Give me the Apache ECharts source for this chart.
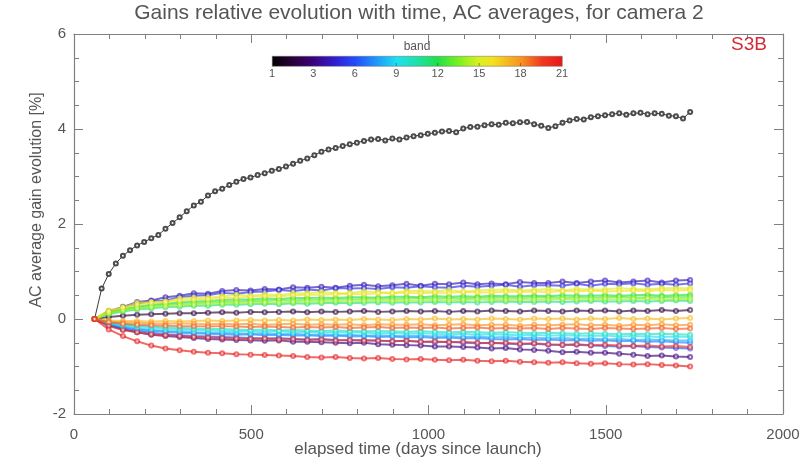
<!DOCTYPE html>
<html><head><meta charset="utf-8">
<script src="https://cdn.jsdelivr.net/npm/echarts@6/dist/echarts.min.js"></script>
<style>html,body{margin:0;padding:0;background:#fff}#c{width:803px;height:461px}</style>
</head><body><div id="c"></div>
<script>
// x values (days since launch)
const daysBand1 = [58,78,98,118,138,158,178,198,218,238,258,278,298,318,338,358,378,398,418,438,458,478,498,518,538,558,578,598,618,638,658,678,698,718,738,758,778,798,818,838,858,878,898,918,938,958,978,998,1018,1038,1058,1078,1098,1118,1138,1158,1178,1198,1218,1238,1258,1278,1298,1318,1338,1358,1378,1398,1418,1438,1458,1478,1498,1518,1538,1558,1578,1598,1618,1638,1658,1678,1698,1718,1738];
const daysBands = [58,98,138,178,218,258,298,338,378,418,458,498,538,578,618,658,698,738,778,818,858,898,938,978,1018,1058,1098,1138,1178,1218,1258,1298,1338,1378,1418,1458,1498,1538,1578,1618,1658,1698,1738];

// gain evolution [%] per band
const band1 = [0,0.64,0.95,1.17,1.33,1.45,1.55,1.62,1.70,1.77,1.90,2.02,2.14,2.27,2.39,2.47,2.60,2.69,2.74,2.82,2.89,2.95,2.98,3.03,3.07,3.12,3.16,3.21,3.27,3.33,3.38,3.45,3.52,3.57,3.60,3.64,3.68,3.71,3.75,3.78,3.79,3.76,3.80,3.78,3.82,3.85,3.87,3.90,3.92,3.95,3.96,3.93,4.01,4.04,4.05,4.08,4.10,4.09,4.13,4.12,4.14,4.15,4.10,4.07,4.02,4.06,4.13,4.18,4.21,4.20,4.25,4.27,4.29,4.31,4.33,4.30,4.33,4.34,4.31,4.33,4.32,4.28,4.27,4.22,4.36];
const band2 = [0,0.04,0.07,0.09,0.10,0.11,0.12,0.12,0.13,0.14,0.13,0.15,0.14,0.15,0.16,0.14,0.16,0.15,0.16,0.17,0.15,0.16,0.17,0.16,0.17,0.15,0.17,0.16,0.18,0.17,0.16,0.18,0.17,0.16,0.18,0.17,0.18,0.16,0.18,0.17,0.19,0.17,0.19];
const band3 = [0,-0.13,-0.22,-0.28,-0.33,-0.36,-0.38,-0.40,-0.42,-0.43,-0.44,-0.45,-0.46,-0.45,-0.48,-0.48,-0.49,-0.50,-0.51,-0.50,-0.53,-0.54,-0.55,-0.56,-0.58,-0.58,-0.59,-0.60,-0.62,-0.61,-0.64,-0.65,-0.67,-0.70,-0.69,-0.71,-0.71,-0.73,-0.75,-0.78,-0.77,-0.79,-0.80];
const band4 = [0,0.17,0.25,0.36,0.39,0.46,0.49,0.54,0.53,0.59,0.61,0.60,0.63,0.62,0.67,0.66,0.68,0.66,0.70,0.72,0.69,0.71,0.74,0.70,0.74,0.73,0.77,0.73,0.75,0.73,0.78,0.76,0.76,0.79,0.76,0.79,0.81,0.77,0.79,0.81,0.77,0.81,0.82];
const band5 = [0,0.14,0.26,0.32,0.38,0.39,0.46,0.49,0.50,0.55,0.53,0.57,0.58,0.61,0.59,0.62,0.60,0.65,0.64,0.65,0.63,0.67,0.66,0.69,0.67,0.66,0.70,0.68,0.70,0.72,0.68,0.71,0.71,0.70,0.74,0.70,0.74,0.73,0.75,0.72,0.74,0.72,0.75];
const band6 = [0,-0.12,-0.20,-0.25,-0.29,-0.32,-0.34,-0.36,-0.37,-0.38,-0.39,-0.40,-0.41,-0.40,-0.42,-0.43,-0.42,-0.44,-0.45,-0.44,-0.46,-0.47,-0.46,-0.48,-0.49,-0.48,-0.50,-0.51,-0.50,-0.52,-0.53,-0.52,-0.54,-0.55,-0.54,-0.56,-0.57,-0.58,-0.57,-0.59,-0.60,-0.61,-0.62];
const band7 = [0,-0.11,-0.18,-0.22,-0.25,-0.27,-0.29,-0.30,-0.31,-0.32,-0.33,-0.32,-0.34,-0.33,-0.35,-0.34,-0.36,-0.35,-0.37,-0.36,-0.38,-0.37,-0.39,-0.38,-0.40,-0.39,-0.41,-0.40,-0.42,-0.43,-0.42,-0.44,-0.43,-0.45,-0.44,-0.46,-0.45,-0.47,-0.46,-0.48,-0.47,-0.49,-0.50];
const band8 = [0,-0.10,-0.16,-0.20,-0.23,-0.25,-0.26,-0.28,-0.29,-0.29,-0.30,-0.31,-0.30,-0.32,-0.31,-0.33,-0.32,-0.34,-0.33,-0.35,-0.34,-0.35,-0.36,-0.35,-0.37,-0.36,-0.38,-0.37,-0.39,-0.38,-0.40,-0.39,-0.41,-0.40,-0.42,-0.41,-0.43,-0.42,-0.44,-0.43,-0.44,-0.45,-0.45];
const band9 = [0,-0.08,-0.13,-0.17,-0.19,-0.21,-0.22,-0.23,-0.24,-0.25,-0.25,-0.26,-0.27,-0.26,-0.28,-0.27,-0.28,-0.29,-0.28,-0.29,-0.30,-0.29,-0.31,-0.30,-0.31,-0.32,-0.31,-0.33,-0.32,-0.33,-0.34,-0.33,-0.35,-0.34,-0.35,-0.36,-0.35,-0.37,-0.36,-0.37,-0.38,-0.37,-0.38];
const band10 = [0,-0.07,-0.11,-0.14,-0.16,-0.18,-0.19,-0.20,-0.21,-0.21,-0.22,-0.23,-0.22,-0.24,-0.23,-0.24,-0.25,-0.24,-0.25,-0.26,-0.25,-0.26,-0.27,-0.26,-0.27,-0.28,-0.27,-0.28,-0.29,-0.28,-0.29,-0.30,-0.29,-0.30,-0.31,-0.30,-0.31,-0.32,-0.31,-0.32,-0.31,-0.32,-0.33];
const band11 = [0,0.10,0.16,0.20,0.22,0.25,0.26,0.28,0.28,0.30,0.30,0.31,0.32,0.31,0.33,0.32,0.33,0.34,0.33,0.34,0.35,0.34,0.35,0.35,0.36,0.35,0.36,0.35,0.36,0.37,0.36,0.36,0.37,0.36,0.37,0.38,0.37,0.37,0.38,0.37,0.38,0.39,0.38];
const band12 = [0,0.13,0.21,0.26,0.30,0.32,0.35,0.37,0.38,0.40,0.41,0.41,0.43,0.42,0.44,0.44,0.45,0.44,0.46,0.46,0.45,0.47,0.47,0.46,0.48,0.47,0.48,0.47,0.49,0.48,0.48,0.49,0.48,0.50,0.49,0.49,0.50,0.49,0.50,0.51,0.49,0.50,0.51];
const band13 = [0,0.12,0.19,0.24,0.27,0.30,0.32,0.33,0.35,0.36,0.37,0.38,0.38,0.40,0.39,0.41,0.40,0.42,0.41,0.42,0.43,0.42,0.43,0.44,0.43,0.44,0.43,0.45,0.44,0.45,0.44,0.45,0.46,0.45,0.46,0.45,0.46,0.47,0.45,0.46,0.47,0.46,0.47];
const band14 = [0,0.12,0.18,0.22,0.25,0.27,0.29,0.30,0.32,0.32,0.34,0.34,0.35,0.35,0.36,0.37,0.36,0.38,0.37,0.38,0.39,0.38,0.39,0.39,0.40,0.39,0.40,0.41,0.40,0.40,0.41,0.40,0.41,0.42,0.41,0.41,0.42,0.41,0.42,0.43,0.41,0.42,0.42];
const band15 = [0,0.18,0.25,0.34,0.36,0.37,0.43,0.45,0.45,0.48,0.51,0.49,0.52,0.50,0.54,0.54,0.57,0.54,0.55,0.58,0.57,0.55,0.59,0.59,0.58,0.61,0.57,0.60,0.61,0.62,0.60,0.61,0.63,0.60,0.63,0.62,0.62,0.65,0.63,0.62,0.65,0.65,0.65];
const band16 = [0,0.16,0.24,0.30,0.34,0.36,0.39,0.41,0.42,0.45,0.45,0.47,0.48,0.48,0.50,0.51,0.51,0.52,0.53,0.52,0.54,0.54,0.55,0.54,0.56,0.55,0.57,0.56,0.56,0.58,0.57,0.58,0.57,0.59,0.58,0.60,0.58,0.59,0.60,0.59,0.61,0.60,0.61];
const band17 = [0,-0.03,-0.04,-0.04,-0.05,-0.04,-0.05,-0.04,-0.03,-0.04,-0.03,-0.02,-0.03,-0.02,-0.03,-0.01,-0.02,-0.01,-0.02,0.00,-0.01,-0.02,0.00,-0.01,0.01,-0.01,0.00,-0.01,0.01,0.00,-0.01,0.01,0.00,0.01,-0.01,0.01,0.00,0.02,0.00,0.01,-0.01,0.01,0.02];
const band18 = [0,-0.05,-0.07,-0.08,-0.09,-0.10,-0.09,-0.10,-0.11,-0.10,-0.11,-0.10,-0.12,-0.11,-0.10,-0.12,-0.11,-0.12,-0.11,-0.13,-0.11,-0.12,-0.12,-0.11,-0.13,-0.12,-0.11,-0.13,-0.12,-0.12,-0.14,-0.12,-0.13,-0.12,-0.11,-0.13,-0.12,-0.14,-0.12,-0.13,-0.11,-0.13,-0.12];
const band19 = [0,-0.07,-0.10,-0.12,-0.13,-0.14,-0.15,-0.15,-0.16,-0.15,-0.16,-0.17,-0.16,-0.17,-0.18,-0.17,-0.18,-0.17,-0.19,-0.18,-0.17,-0.19,-0.18,-0.19,-0.18,-0.20,-0.19,-0.18,-0.20,-0.19,-0.20,-0.19,-0.21,-0.19,-0.20,-0.21,-0.19,-0.20,-0.21,-0.20,-0.19,-0.21,-0.20];
const band20 = [0,-0.15,-0.23,-0.28,-0.32,-0.34,-0.36,-0.38,-0.39,-0.40,-0.41,-0.42,-0.41,-0.43,-0.42,-0.44,-0.43,-0.45,-0.44,-0.46,-0.45,-0.47,-0.46,-0.48,-0.47,-0.49,-0.48,-0.50,-0.51,-0.50,-0.52,-0.51,-0.53,-0.54,-0.53,-0.55,-0.54,-0.56,-0.57,-0.56,-0.58,-0.57,-0.59];
const band21 = [0,-0.22,-0.36,-0.47,-0.56,-0.62,-0.66,-0.69,-0.71,-0.72,-0.74,-0.75,-0.76,-0.77,-0.78,-0.80,-0.81,-0.80,-0.82,-0.83,-0.82,-0.84,-0.85,-0.84,-0.86,-0.87,-0.86,-0.88,-0.89,-0.88,-0.90,-0.91,-0.92,-0.91,-0.93,-0.94,-0.93,-0.95,-0.96,-0.95,-0.97,-0.98,-1.00];

const colorbarLabels = ['1','3','6','9','12','15','18','21'];
const titleText = 'Gains relative evolution with time, AC averages, for camera 2';
const xName = 'elapsed time (days since launch)';
const yName = 'AC average gain evolution [%]';
const tagText = 'S3B';

const allBands = [band1,band2,band3,band4,band5,band6,band7,band8,band9,band10,band11,band12,band13,band14,band15,band16,band17,band18,band19,band20,band21];

const stops = [[0,'#000000'],[0.07,'#2a0038'],[0.14,'#3c0078'],[0.22,'#3020d0'],[0.29,'#2050ff'],[0.36,'#2098f8'],[0.43,'#20e0f0'],[0.5,'#20e0a8'],[0.57,'#20e048'],[0.64,'#78f020'],[0.71,'#d8f020'],[0.76,'#f4e020'],[0.86,'#f89020'],[0.93,'#f03820'],[1,'#e81818']];
function hex(c){return [parseInt(c.substr(1,2),16),parseInt(c.substr(3,2),16),parseInt(c.substr(5,2),16)];}
function colorAt(f){
  for(let i=1;i<stops.length;i++){
    if(f<=stops[i][0]){
      const a=hex(stops[i-1][1]), b=hex(stops[i][1]);
      const t=(f-stops[i-1][0])/(stops[i][0]-stops[i-1][0]);
      return 'rgb('+a.map((v,k)=>Math.round(v+(b[k]-v)*t)).join(',')+')';
    }
  }
  return stops[stops.length-1][1];
}
function bandFrac(b){return b<=3?(b-1)/14:1/7+(b-3)/21;}

const series = allBands.map((vals,i)=>{
  const b=i+1;
  const xs = b===1?daysBand1:daysBands;
  const n=Math.min(xs.length,vals.length);
  const data=[];
  for(let k=0;k<n;k++) data.push([xs[k],vals[k]]);
  const col = b===1?'#3a3a3a':colorAt(bandFrac(b));
  return {
    type:'line', name:'band '+b, data,
    symbol:'emptyCircle', symbolSize: 4,
    showSymbol:true,
    lineStyle:{color:col,width:b===1?1:2,opacity:b===1?1:0.65},
    itemStyle:{color:col,borderWidth:1,opacity:b===1?0.9:0.6},
    z: 2, silent:true
  };
});

const font='"Liberation Sans", Arial, sans-serif';
const txtCol='#555';
const gx=272, gy=56, gw=290, gh=10;
const graphics=[
  {type:'rect',left:gx,top:gy,shape:{width:gw,height:gh},
   style:{fill:new echarts.graphic.LinearGradient(0,0,1,0,stops.map(s=>({offset:s[0],color:s[1]}))),stroke:'#666',lineWidth:0.5},z:10},
  {type:'text',x:gx+gw/2,y:gy-9,style:{text:'band',fill:txtCol,font:'12px '+font,align:'center',verticalAlign:'middle'},z:10},
  {type:'text',x:749,y:45,style:{text:tagText,fill:'#d42a36',font:'19px '+font,align:'center',verticalAlign:'middle'},z:10},
  {type:'text',x:419,y:13,style:{text:titleText,fill:txtCol,font:'21px '+font,align:'center',verticalAlign:'middle'},z:10},
  {type:'text',x:418,y:449,style:{text:xName,fill:txtCol,font:'17px '+font,align:'center',verticalAlign:'middle'},z:10},
  {type:'text',x:37,y:200,rotation:Math.PI/2,style:{text:yName,fill:txtCol,font:'16px '+font,align:'center',verticalAlign:'middle'},z:10}
];
colorbarLabels.forEach((t,i)=>{
  const x=gx+i*gw/(colorbarLabels.length-1);
  graphics.push({type:'text',x:x,y:gy+gh+8,style:{text:t,fill:txtCol,font:'11px '+font,align:'center',verticalAlign:'middle'},z:10});
  if(i>0&&i<colorbarLabels.length-1){
    graphics.push({type:'line',shape:{x1:x,y1:gy+gh-3,x2:x,y2:gy+gh},style:{stroke:'#333',lineWidth:0.8,opacity:0.6},z:11});
  }
});

const axisCol='#808080';
const tickCommon={show:true,inside:true,length:9,lineStyle:{color:axisCol,width:1}};
const minorCommon={show:true,length:5,lineStyle:{color:axisCol,width:1}};
const lineCommon={show:true,onZero:false,lineStyle:{color:axisCol,width:1.2}};
const plainFmt=v=>String(v);

const chart=echarts.init(document.getElementById('c'),null,{renderer:'canvas'});
chart.setOption({
  animation:false,
  backgroundColor:'#fff',
  grid:{left:74,right:20,top:34,bottom:47,containLabel:false,outerBoundsMode:'none'},
  xAxis:[
    {type:'value',min:0,max:2000,interval:500,position:'bottom',
     axisLine:lineCommon,axisTick:tickCommon,
     minorTick:Object.assign({splitNumber:5},minorCommon),
     axisLabel:{fontSize:15,color:txtCol,margin:13,fontFamily:font,formatter:plainFmt},splitLine:{show:false}},
    {type:'value',min:0,max:2000,interval:500,position:'top',
     axisLine:lineCommon,axisTick:tickCommon,
     minorTick:Object.assign({splitNumber:5},minorCommon),
     axisLabel:{show:false},splitLine:{show:false}}
  ],
  yAxis:[
    {type:'value',min:-2,max:6,interval:2,position:'left',
     axisLine:lineCommon,axisTick:tickCommon,
     minorTick:Object.assign({splitNumber:4},minorCommon),
     axisLabel:{fontSize:15,color:txtCol,margin:8,fontFamily:font,formatter:plainFmt},splitLine:{show:false}},
    {type:'value',min:-2,max:6,interval:2,position:'right',
     axisLine:lineCommon,axisTick:tickCommon,
     minorTick:Object.assign({splitNumber:4},minorCommon),
     axisLabel:{show:false},splitLine:{show:false}}
  ],
  graphic:graphics,
  series:series
});
</script></body></html>
